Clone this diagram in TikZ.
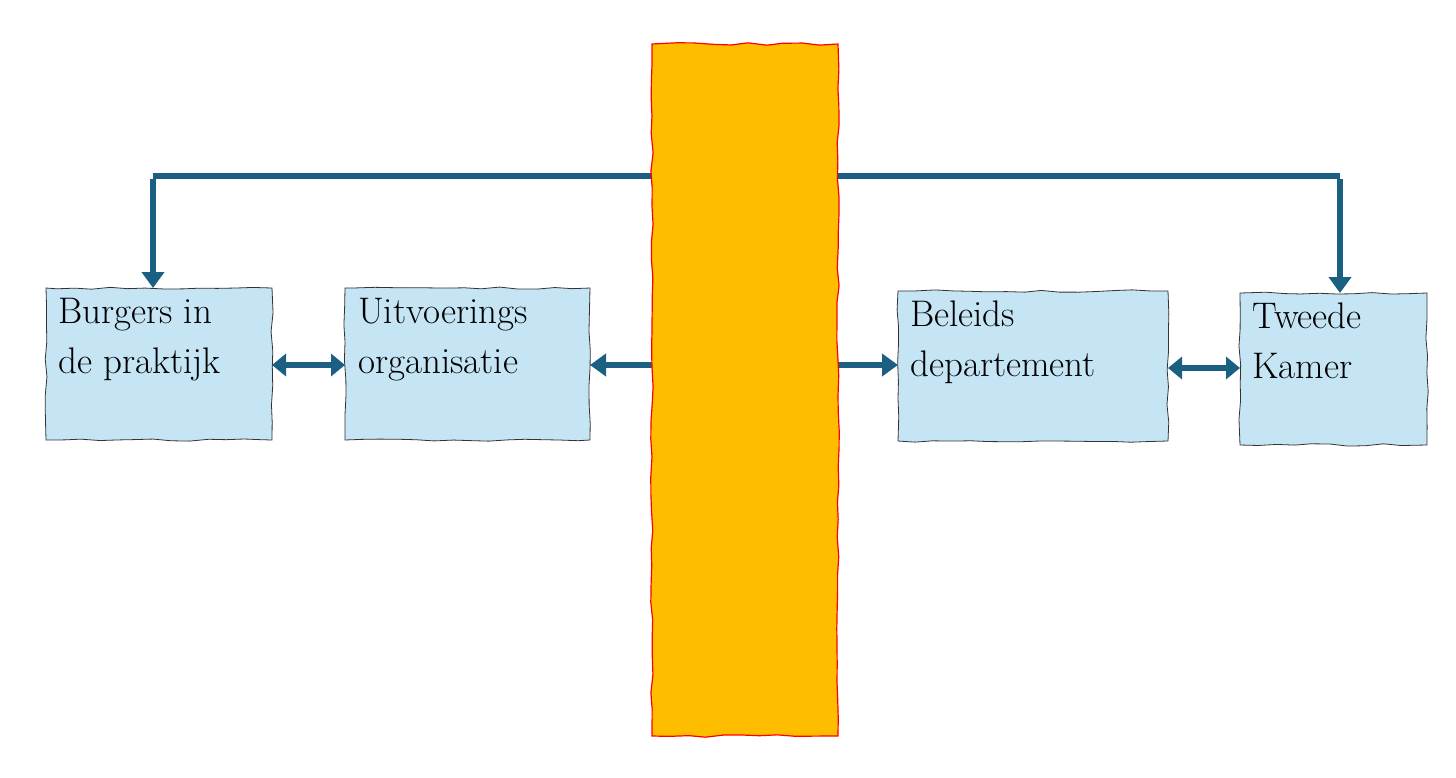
\documentclass[tikz,border=0pt]{standalone}
\usetikzlibrary{arrows.meta,decorations.pathmorphing}
\definecolor{arr}{HTML}{1B5F82}
\definecolor{boxfill}{HTML}{C5E5F5}
\definecolor{bar}{HTML}{FFBD00}
\begin{document}
\begin{tikzpicture}[x=1pt,y=-1pt,
  sk/.style={decorate,decoration={random steps,segment length=18pt,amplitude=1.2pt}},
  boxs/.style={sk,fill=boxfill,draw=black!80,line width=0.8pt},
  lbl/.style={anchor=north west,align=left,font=\fontsize{37}{50}\selectfont,inner sep=0pt},
  con/.style={draw=arr,line width=6pt,-{Triangle[width=22pt,length=16pt]}},
  dcon/.style={draw=arr,line width=6pt,{Triangle[width=22pt,length=14pt]}-{Triangle[width=22pt,length=14pt]}}]
\useasboundingbox (0,0) rectangle (1456,777);
% boxes
\path[boxs] (46,288) rectangle (272,440);
\path[boxs] (345,288) rectangle (590,440);
\path[boxs] (898,291) rectangle (1168,441);
\path[boxs] (1240,293) rectangle (1427,445);
\node[lbl] (b1) at (58,298) {Burgers in\\de praktijk};
\node[lbl] (b2) at (358,298) {Uitvoerings\\organisatie};
\node[lbl] (b3) at (910,301) {Beleids\\departement};
\node[lbl] (b4) at (1252,303) {Tweede\\Kamer};
\coordinate (B1r) at (272,365); \coordinate (B2l) at (345,365);
\coordinate (B2r) at (590,365); \coordinate (B3l) at (898,365);
\coordinate (B3r) at (1168,368); \coordinate (B4l) at (1240,368);
\coordinate (B1t) at (153,288); \coordinate (B4t) at (1340,293);
\coordinate (L) at (153,176); \coordinate (R) at (1340,176);
\coordinate (BL) at (660,365); \coordinate (BR) at (830,365);
% connectors
\draw[line width=6pt,arr] (L) -- (R);
\draw[con] ([yshift=-3pt]L) -- (B1t);
\draw[con] ([yshift=-3pt]R) -- (B4t);
\draw[dcon] (B1r) -- (B2l);
\draw[dcon] (B3r) -- (B4l);
\draw[con] (BL) -- (B2r);
\draw[con] (BR) -- (B3l);
% bar
\path[sk,fill=bar,draw=red,line width=1.2pt] (652,44) rectangle (838,736);
\end{tikzpicture}
\end{document}
